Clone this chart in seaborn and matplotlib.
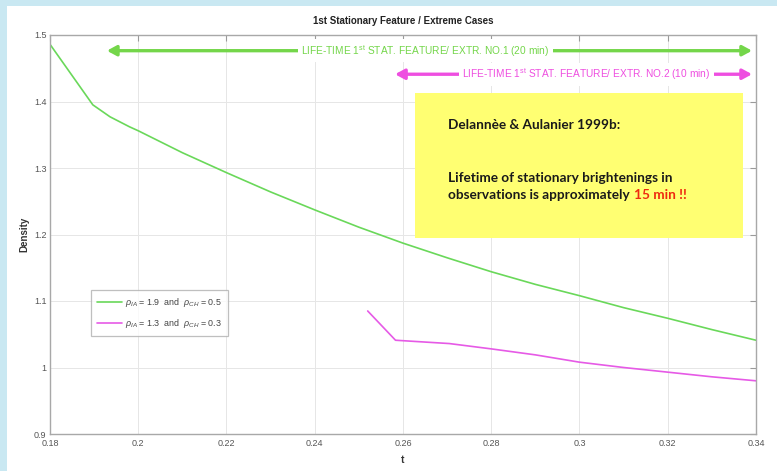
import matplotlib
matplotlib.use("Agg")
import matplotlib.pyplot as plt
import matplotlib.patches as mpatches
from matplotlib.ticker import FuncFormatter
import numpy as np
import pandas as pd
import seaborn as sns

# Density evolution for the two extreme cases
t_case1 = [0.18, 0.1897, 0.1936, 0.198, 0.20, 0.21, 0.22, 0.23, 0.24, 0.25, 0.26,
           0.27, 0.28, 0.29, 0.30, 0.31, 0.32, 0.33, 0.34]
rho_case1 = [1.486, 1.395, 1.377, 1.362, 1.356, 1.323, 1.293, 1.264, 1.237, 1.211, 1.187,
             1.165, 1.144, 1.125, 1.108, 1.090, 1.074, 1.057, 1.041]
t_case2 = [0.252, 0.2583, 0.2705, 0.28, 0.29, 0.30, 0.31, 0.32, 0.33, 0.34]
rho_case2 = [1.085, 1.041, 1.036, 1.028, 1.019, 1.008, 1.000, 0.993, 0.986, 0.980]

label_case1 = r"$\rho_{IA}$ = 1.9  and  $\rho_{CH}$ = 0.5"
label_case2 = r"$\rho_{IA}$ = 1.3  and  $\rho_{CH}$ = 0.3"

x_ticks = [0.18, 0.20, 0.22, 0.24, 0.26, 0.28, 0.30, 0.32, 0.34]
y_ticks = [0.9, 1.0, 1.1, 1.2, 1.3, 1.4, 1.5]

# Lifetime spans (start, end) in t
span1 = (0.1929, 0.3391)
span2 = (0.2582, 0.3391)

green = "#6ad85a"
magenta = "#e65ae6"
arrow_green = "#74d64a"
arrow_magenta = "#ee4ee0"
frame_blue = "#c9e8f2"

df = pd.concat([
    pd.DataFrame({"t": t_case1, "Density": rho_case1, "case": label_case1}),
    pd.DataFrame({"t": t_case2, "Density": rho_case2, "case": label_case2}),
])

sns.set_style("white")
plt.rcParams["font.family"] = ["Liberation Sans", "DejaVu Sans"]
plt.rcParams["mathtext.fontset"] = "custom"
plt.rcParams["mathtext.it"] = "Liberation Sans:italic"
plt.rcParams["mathtext.rm"] = "Liberation Sans"

W, H = 777, 471
fig = plt.figure(figsize=(W / 100, H / 100), dpi=100, facecolor="white")
# light blue frame strips along the left and top edges
fig.patches.append(mpatches.Rectangle((0, 0), 7 / W, 1, transform=fig.transFigure,
                                      facecolor=frame_blue, edgecolor="none"))
fig.patches.append(mpatches.Rectangle((0, (H - 6) / H), 1, 6 / H, transform=fig.transFigure,
                                      facecolor=frame_blue, edgecolor="none"))

ax = fig.add_axes([50 / W, (H - 434) / H, (756 - 50) / W, (434 - 35) / H])
ax.set_facecolor("white")

sns.lineplot(data=df, x="t", y="Density", hue="case",
             palette={label_case1: green, label_case2: magenta},
             linewidth=1.2, ax=ax, sort=False, estimator=None)

ax.set_xlim(0.18, 0.34)
ax.set_ylim(0.9, 1.5)
ax.set_xticks(x_ticks)
ax.set_yticks(y_ticks)
fmt = FuncFormatter(lambda v, p: f"{v:g}")
ax.xaxis.set_major_formatter(fmt)
ax.yaxis.set_major_formatter(fmt)
ax.tick_params(direction="in", length=4, width=0.8, color="#9a9a9a",
               labelsize=6.5, labelcolor="#555555", top=True, right=True)
ax.tick_params(axis="y", pad=2.5)
ax.grid(True, color="#e6e6e6", linewidth=0.7)
for s in ax.spines.values():
    s.set_color("#a8a8a8")
    s.set_linewidth(1.0)

ax.set_xlabel("t", fontsize=7.5, fontweight="bold", color="#333333", labelpad=5)
ax.set_ylabel("Density", fontsize=7, fontweight="bold", color="#333333", labelpad=3)
ax.set_title("1st Stationary Feature / Extreme Cases", fontsize=7, fontweight="bold",
             color="#222222", pad=8)

leg = ax.legend(loc="upper left", bbox_to_anchor=(0.052, 0.372), fontsize=6.4,
                frameon=True, fancybox=False, edgecolor="#b0b0b0",
                handlelength=2.8, handletextpad=0.4, borderpad=0.65, labelspacing=0.95,
                labelcolor="#444444")
leg.get_frame().set_linewidth(0.9)

# Lifetime arrows with centred captions
def lifetime_arrow(span, y, color, text, xc):
    ax.annotate("", xy=(span[0], y), xytext=(span[1], y),
                arrowprops=dict(arrowstyle="<|-|>,head_length=0.55,head_width=0.3",
                                color=color, lw=2.4, shrinkA=0, shrinkB=0))
    ax.text(xc, y, text, ha="center", va="center", fontsize=7.3, color=color,
            bbox=dict(facecolor="white", edgecolor="none", pad=2.5), zorder=5)

lifetime_arrow(span1, 1.4764, arrow_green,
               r"LIFE-TIME 1$^{\rm st}$ STAT. FEATURE/ EXTR. NO.1 (20 min)", 0.265)
lifetime_arrow(span2, 1.441, arrow_magenta,
               r"LIFE-TIME 1$^{\rm st}$ STAT. FEATURE/ EXTR. NO.2 (10 min)", 0.3015)

# Note box
ax.add_patch(mpatches.Rectangle((0.517, 0.491), 0.465, 0.363, transform=ax.transAxes,
                                facecolor="#ffff72", edgecolor="none", zorder=3))
box_font = dict(fontsize=9.8, fontweight="bold", family=["Lato", "DejaVu Sans"],
                color="#1a1a1a", transform=ax.transAxes, zorder=4)
ax.text(0.564, 0.774, "Delannèe & Aulanier 1999b:", va="center", **box_font)
ax.text(0.564, 0.642, "Lifetime of stationary brightenings in", va="center", **box_font)
t3 = ax.text(0.564, 0.599, "observations is approximately", va="center", **box_font)
ax.annotate("15 min !!", xy=(1, 0), xycoords=t3, xytext=(3, 0),
            textcoords="offset points", va="bottom", ha="left",
            fontsize=9.8, fontweight="bold", family=["Lato", "DejaVu Sans"],
            color="#ee2a10", zorder=4)

fig.savefig("out.png", dpi=100, facecolor=fig.get_facecolor())
